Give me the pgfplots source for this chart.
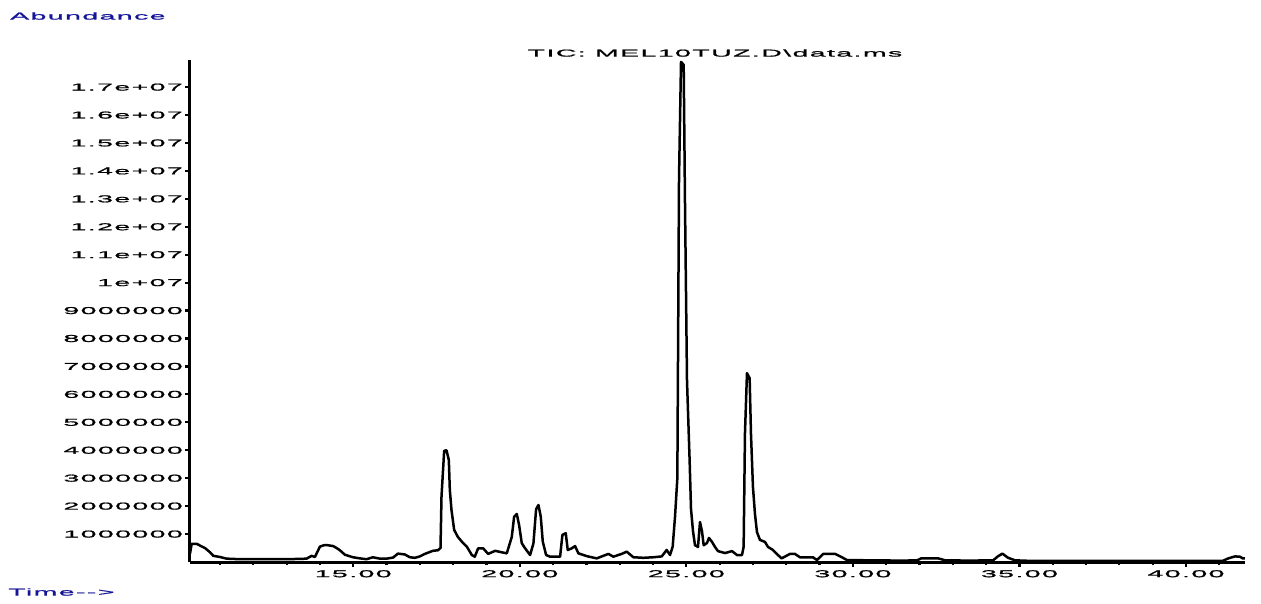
\documentclass[border=0pt]{standalone}
\usepackage{pgfplots}
\pgfplotsset{compat=1.18}
\usepackage{fontspec}
\newfontfamily\chem{Liberation Sans}[FakeStretch=2.85,LetterSpace=14,FakeBold=1.2]
\definecolor{navy}{RGB}{20,20,150}
\begin{document}
\begin{tikzpicture}[font=\chem\fontsize{10}{12}\selectfont]
\path[use as bounding box] (-190pt,-41pt) rectangle (1071pt,562pt);
\begin{axis}[
  at={(0,0)}, anchor=south west, scale only axis,
  width=1055pt, height=502pt,
  xmin=10.1, xmax=41.77, ymin=0, ymax=17970000,
  axis x line=bottom, axis y line=left,
  axis line style={-, line width=3pt, black},
  xtick={15,20,25,30,35,40},
  xticklabels={15.00,20.00,25.00,30.00,35.00,40.00},
  minor xtick={11,12,13,14,16,17,18,19,21,22,23,24,26,27,28,29,31,32,33,34,36,37,38,39,41},
  ytick={1000000,2000000,3000000,4000000,5000000,6000000,7000000,8000000,9000000,10000000,11000000,12000000,13000000,14000000,15000000,16000000,17000000},
  yticklabels={1000000,2000000,3000000,4000000,5000000,6000000,7000000,8000000,9000000,1e+07,1.1e+07,1.2e+07,1.3e+07,1.4e+07,1.5e+07,1.6e+07,1.7e+07},
  scaled y ticks=false, scaled x ticks=false,
  tick align=outside, major tick length=5pt, minor tick length=3pt,
  tick style={line width=2.2pt, black},
  yticklabel style={inner sep=0pt, xshift=-2pt},
  xticklabel style={inner sep=0pt, yshift=-3pt},
  clip=false,
]
\addplot[black, line width=2.5pt, line join=round] coordinates {
(10.10,300000) (10.15,650000) (10.30,650000) (10.45,560000) (10.55,500000)
(10.70,350000) (10.80,220000) (11.00,180000) (11.20,120000) (11.6,100000)
(12.2,100000) (12.8,100000) (13.4,110000) (13.6,120000) (13.75,220000)
(13.85,180000) (14.00,550000) (14.12,600000) (14.24,600000) (14.40,570000)
(14.50,500000) (14.60,420000) (14.75,260000) (14.99,170000) (15.20,130000)
(15.40,100000) (15.59,170000) (15.80,120000) (16.00,120000) (16.20,160000)
(16.34,300000) (16.55,270000) (16.70,170000) (16.85,150000) (17.00,200000)
(17.15,290000) (17.39,400000) (17.54,420000) (17.62,500000) (17.65,2340000)
(17.73,3980000) (17.80,4000000) (17.87,3650000) (17.90,2580000) (17.95,1860000)
(18.03,1150000) (18.14,900000) (18.26,730000) (18.41,550000) (18.56,250000)
(18.65,190000) (18.75,490000) (18.90,490000) (19.05,290000) (19.26,400000)
(19.45,350000) (19.61,310000) (19.76,900000) (19.83,1620000) (19.91,1720000)
(19.98,1320000) (20.06,670000) (20.16,490000) (20.31,250000) (20.41,670000)
(20.49,1890000) (20.56,2040000) (20.63,1620000) (20.69,730000) (20.79,250000)
(20.91,190000) (21.21,190000) (21.28,970000) (21.38,1030000) (21.44,430000)
(21.56,490000) (21.66,570000) (21.76,310000) (22.01,210000) (22.31,130000)
(22.66,290000) (22.81,190000) (23.06,290000) (23.21,370000) (23.41,170000)
(23.71,150000) (24.01,170000) (24.26,200000) (24.41,430000) (24.51,250000)
(24.59,550000) (24.66,1620000) (24.73,3000000) (24.78,13700000) (24.84,17900000)
(24.92,17800000) (24.96,12800000) (25.02,6480000) (25.10,3580000) (25.14,1900000)
(25.20,1100000) (25.26,600000) (25.35,540000) (25.41,1430000) (25.47,1100000)
(25.52,600000) (25.62,680000) (25.68,860000) (25.77,720000) (25.86,540000)
(25.95,390000) (26.16,320000) (26.37,390000) (26.52,250000) (26.67,250000)
(26.72,540000) (26.76,4600000) (26.82,6760000) (26.90,6580000) (26.94,4600000)
(27.00,2680000) (27.06,1720000) (27.12,1070000) (27.21,790000) (27.36,720000)
(27.45,540000) (27.60,430000) (27.75,250000) (27.86,130000) (28.11,290000)
(28.26,290000) (28.41,170000) (28.80,170000) (28.92,70000) (29.11,290000)
(29.47,290000) (29.67,170000) (29.82,70000) (30.5,60000) (31.5,50000)
(31.93,60000) (32.05,130000) (32.56,130000) (32.77,60000) (33.5,50000)
(34.21,60000) (34.35,200000) (34.49,300000) (34.60,200000) (34.66,150000)
(34.87,60000) (35.32,40000) (38,40000) (41.1,40000) (41.27,130000)
(41.47,200000) (41.62,190000) (41.70,130000) (41.77,130000)
};
\end{axis}
\node[anchor=west, inner sep=0pt, text=navy] at (-180pt,546pt) {Abundance};
\node[inner sep=0pt] at (525pt,509pt) {TIC: MEL10TUZ.D\textbackslash data.ms};
\node[anchor=west, inner sep=0pt, text=navy] at (-182pt,-30pt) {Time-{}-{}>};
\end{tikzpicture}
\end{document}
